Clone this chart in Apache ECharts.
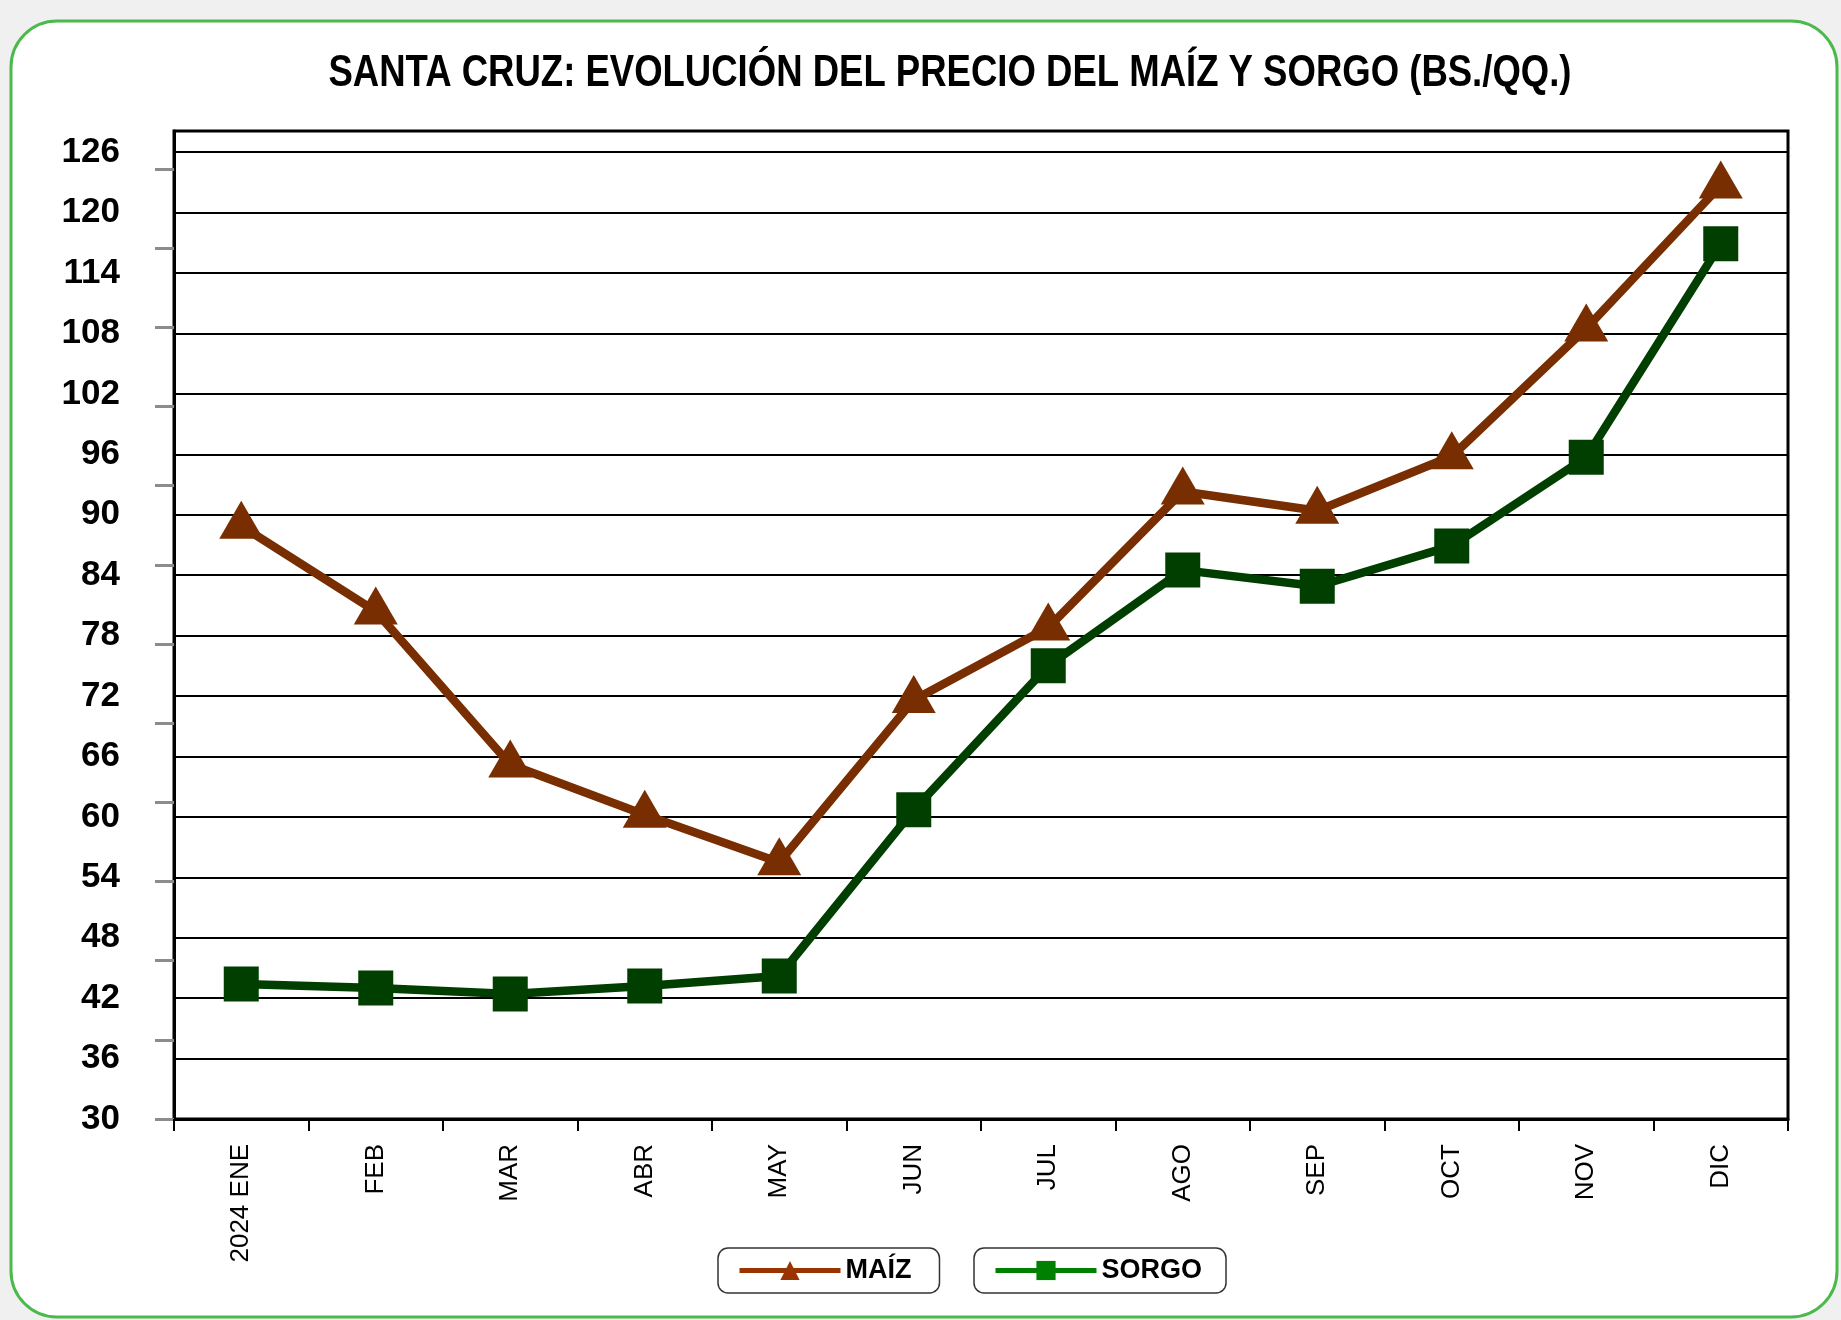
<!DOCTYPE html>
<html>
<head>
<meta charset="utf-8">
<script src="https://cdn.jsdelivr.net/npm/echarts@6/dist/echarts.min.js"></script>
<style>
    html, body { margin: 0; padding: 0; background: #f0f0f0; }
    #chart { width: 1841px; height: 1320px; }
</style>
</head>
<body>
<div id="chart"></div>
<script>
var meses = ['2024 ENE', 'FEB', 'MAR', 'ABR', 'MAY', 'JUN', 'JUL', 'AGO', 'SEP', 'OCT', 'NOV', 'DIC'];
var maiz = [88.9, 80.4, 65.2, 60.2, 55.5, 71.6, 78.8, 92.3, 90.4, 95.8, 108.5, 122.7];
var sorgo = [43.4, 43.0, 42.4, 43.2, 44.2, 60.7, 75.0, 84.5, 82.9, 86.9, 95.7, 116.9];
// marcas grises del eje secundario
var marcasGrises = [0, 1, 2, 3, 4, 5, 6, 7, 8, 9, 10, 11, 12];
var titulo = 'SANTA CRUZ: EVOLUCIÓN DEL PRECIO DEL MAÍZ Y SORGO (BS./QQ.)';

var fuente = "'Liberation Sans Narrow', 'Arial Narrow', 'Liberation Sans', Arial, sans-serif";

var myChart = echarts.init(document.getElementById('chart'));

var options = {
    backgroundColor: '#f0f0f0',
    animation: false,
    graphic: [{
        type: 'rect',
        z: -10,
        shape: { x: 11, y: 21, width: 1826, height: 1296, r: 46 },
        style: { fill: '#ffffff', stroke: '#4cb94c', lineWidth: 3 }
    }, {
        // titulo angosto (no hay fuente narrow instalada)
        type: 'text',
        x: 950,
        y: 74,
        scaleX: 0.83,
        style: {
            text: titulo,
            align: 'center',
            verticalAlign: 'middle',
            fontFamily: fuente,
            fontSize: 44,
            fontWeight: 'bold',
            fill: '#000'
        }
    }],
    legend: [{
        data: [{ name: 'MAÍZ', itemStyle: { color: '#993300' }, lineStyle: { color: '#993300', width: 5 } }],
        left: 718,
        top: 1248,
        itemWidth: 101,
        itemHeight: 24,
        itemGap: 0,
        padding: [9, 28, 9, 19],
        borderColor: '#333',
        borderWidth: 1.5,
        borderRadius: 10,
        textStyle: { fontFamily: fuente, fontSize: 27, fontWeight: 'bold', color: '#000' }
    }, {
        data: [{ name: 'SORGO', itemStyle: { color: '#008000' }, lineStyle: { color: '#008000', width: 5 } }],
        left: 974,
        top: 1248,
        itemWidth: 101,
        itemHeight: 24,
        itemGap: 0,
        padding: [9, 24, 9, 19],
        borderColor: '#333',
        borderWidth: 1.5,
        borderRadius: 10,
        textStyle: { fontFamily: fuente, fontSize: 27, fontWeight: 'bold', color: '#000' }
    }],
    grid: {
        left: 174,
        right: 53,
        top: 131,
        height: 988,
        show: true,
        borderColor: '#000',
        borderWidth: 3,
        backgroundColor: 'rgba(0,0,0,0)'
    },
    xAxis: {
        type: 'category',
        data: meses,
        boundaryGap: true,
        axisLine: { lineStyle: { color: '#000', width: 3 } },
        axisTick: { show: true, interval: 0, length: 12, lineStyle: { color: '#000', width: 2 } },
        axisLabel: {
            interval: 0,
            rotate: 90,
            margin: 25,
            fontFamily: fuente,
            fontSize: 26,
            color: '#000'
        },
        splitLine: { show: false }
    },
    yAxis: [{
        type: 'value',
        min: 30,
        max: 128.1,
        interval: 6,
        axisLine: { show: true, lineStyle: { color: '#000', width: 3 } },
        axisTick: { show: false },
        axisLabel: {
            showMaxLabel: false,
            margin: 54,
            fontFamily: fuente,
            fontSize: 35,
            fontWeight: 'bold',
            color: '#000'
        },
        splitLine: { show: true, lineStyle: { color: '#000', width: 2 } }
    }, {
        type: 'value',
        position: 'right',
        offset: -1614,
        min: 0,
        max: 12.48,
        interval: 1,
        axisLine: { show: false },
        axisLabel: { show: false },
        splitLine: { show: false },
        axisTick: {
            show: true,
            inside: true,
            length: 19,
            customValues: marcasGrises,
            lineStyle: { color: '#8c8c8c', width: 3 }
        }
    }],
    series: [{
        name: 'SORGO',
        type: 'line',
        data: sorgo,
        symbol: 'rect',
        symbolSize: 35,
        lineStyle: { color: '#003f00', width: 8.5 },
        itemStyle: { color: '#003f00' },
        emphasis: { disabled: true },
        z: 3
    }, {
        name: 'MAÍZ',
        type: 'line',
        data: maiz,
        symbol: 'triangle',
        symbolSize: [44, 38],
        symbolOffset: [0, -6],
        lineStyle: { color: '#782e00', width: 8.5 },
        itemStyle: { color: '#782e00' },
        emphasis: { disabled: true },
        z: 4
    }]
};

myChart.setOption(options);
</script>
</body>
</html>
